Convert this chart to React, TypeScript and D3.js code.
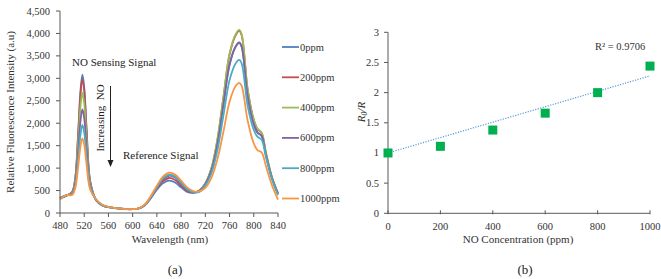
import React from 'react';
import * as d3 from 'd3';

// spectra (a)
const wavelengths = [480, 490, 500, 505, 510, 514, 517, 520, 524, 530, 540, 550, 560, 570, 580, 590, 600, 610, 620, 630, 640, 650, 660, 670, 680, 690, 700, 710, 720, 730, 740, 750, 760, 770, 776, 780, 790, 800, 806, 813, 820, 830, 840];
const ppm0 = [320, 380, 470, 760, 1780, 2750, 3080, 2800, 1850, 700, 280, 170, 130, 110, 95, 85, 85, 100, 170, 330, 520, 660, 720, 680, 570, 470, 450, 500, 660, 960, 1550, 2430, 3300, 3700, 3790, 3700, 2590, 1970, 1790, 1710, 1300, 780, 430];
const ppm200 = [330, 385, 466, 745, 1735, 2670, 2990, 2724, 1800, 690, 280, 170, 130, 110, 95, 85, 85, 100, 172, 340, 545, 705, 780, 735, 610, 495, 455, 495, 655, 990, 1630, 2580, 3530, 3960, 4060, 3960, 2740, 2070, 1870, 1780, 1340, 790, 435];
const ppm400 = [340, 390, 450, 700, 1570, 2398, 2680, 2445, 1630, 650, 285, 172, 132, 112, 96, 86, 86, 102, 180, 360, 580, 780, 860, 820, 680, 540, 470, 490, 660, 1000, 1650, 2600, 3550, 3980, 4080, 3980, 2750, 2080, 1880, 1790, 1350, 800, 440];
const ppm600 = [335, 395, 432, 645, 1375, 2072, 2310, 2112, 1425, 600, 285, 172, 132, 112, 96, 86, 86, 102, 175, 350, 565, 750, 830, 790, 650, 520, 460, 485, 640, 950, 1540, 2430, 3310, 3710, 3800, 3710, 2600, 1980, 1800, 1720, 1300, 780, 430];
const ppm800 = [330, 400, 415, 590, 1190, 1764, 1960, 1797, 1231, 555, 290, 175, 134, 113, 97, 87, 87, 103, 180, 355, 575, 770, 850, 810, 670, 535, 465, 470, 610, 880, 1400, 2180, 2960, 3330, 3410, 3330, 2380, 1850, 1700, 1630, 1250, 750, 400];
const ppm1000 = [300, 395, 400, 545, 1032, 1500, 1660, 1527, 1065, 515, 300, 185, 138, 115, 98, 88, 88, 105, 190, 380, 610, 810, 900, 860, 720, 570, 490, 480, 560, 780, 1200, 1820, 2480, 2830, 2900, 2830, 2050, 1550, 1400, 1350, 1050, 620, 300];
const seriesNames = ['0ppm', '200ppm', '400ppm', '600ppm', '800ppm', '1000ppm'];
const seriesColors = ['#4F81BD', '#C0504D', '#9BBB59', '#8064A2', '#4BACC6', '#F79646'];
const wlTicks = [480, 520, 560, 600, 640, 680, 720, 760, 800, 840];
const intTicks = [0, 500, 1000, 1500, 2000, 2500, 3000, 3500, 4000, 4500];

// calibration (b)
const concentration = [0, 200, 400, 600, 800, 1000];
const ratio = [1.0, 1.11, 1.38, 1.66, 2.0, 2.44];
const concTicks = [0, 200, 400, 600, 800, 1000];
const ratioTicks = [0, 0.5, 1, 1.5, 2, 2.5, 3];

const font = "'Liberation Serif', 'Times New Roman', serif";
const axisColor = '#595959';

export default function App() {
  const spectra = [ppm0, ppm200, ppm400, ppm600, ppm800, ppm1000];

  const xA = d3.scaleLinear().domain([480, 840]).range([60, 278]);
  const yA = d3.scaleLinear().domain([0, 4500]).range([213, 11]);
  const line = d3
    .line<number>()
    .x((_, i) => xA(wavelengths[i]))
    .y((d) => yA(d))
    .curve(d3.curveCatmullRom.alpha(0.5));

  const xB = d3.scaleLinear().domain([0, 1000]).range([388, 650]);
  const yB = d3.scaleLinear().domain([0, 3]).range([213.3, 32.3]);

  // linear trend with intercept fixed at 1
  let num = 0;
  let den = 0;
  concentration.forEach((c, i) => {
    num += c * (ratio[i] - 1);
    den += c * c;
  });
  const slope = num / den;
  const fmt = d3.format(',');

  return (
    <svg width={661} height={279} style={{ position: 'absolute', left: 0, top: 0, background: '#fff', fontFamily: font }}>
      {/* ---------- (a) ---------- */}
      <g>
        {spectra.map((s, i) => (
          <path key={i} d={line(s) || ''} fill="none" stroke={seriesColors[i]} strokeWidth={1.8} />
        ))}
        <line x1={xA(480)} x2={xA(840)} y1={yA(0)} y2={yA(0)} stroke={axisColor} strokeWidth={1} />
        <line x1={xA(480)} x2={xA(480)} y1={yA(0)} y2={yA(4500)} stroke={axisColor} strokeWidth={1} />
        {intTicks.map((t) => (
          <g key={t}>
            <line x1={xA(480) - 4} x2={xA(480)} y1={yA(t)} y2={yA(t)} stroke={axisColor} />
            <text x={50} y={yA(t) + 3.5} fontSize={10.5} textAnchor="end" fill="#333">{fmt(t)}</text>
          </g>
        ))}
        {wlTicks.map((t) => (
          <g key={t}>
            <line x1={xA(t)} x2={xA(t)} y1={yA(0)} y2={yA(0) + 4} stroke={axisColor} />
            <text x={xA(t)} y={229} fontSize={10.5} textAnchor="middle" fill="#333">{t}</text>
          </g>
        ))}
        <text x={170} y={243} fontSize={11} textAnchor="middle" fill="#333">Wavelength (nm)</text>
        <text transform="translate(14,112) rotate(-90)" fontSize={11} textAnchor="middle" fill="#333">
          Relative Fluorescence Intensity (a.u)
        </text>
        <text x={72} y={66} fontSize={11} fill="#222">NO Sensing Signal</text>
        <text x={123} y={159} fontSize={11} fill="#222">Reference Signal</text>
        <text transform="translate(104,118) rotate(-90)" fontSize={11} textAnchor="middle" fill="#222" xmlSpace="preserve">
          Increasing  NO
        </text>
        <line x1={110.5} x2={110.5} y1={86} y2={161} stroke="#222" strokeWidth={1} />
        <path d="M107.5,160 L113.5,160 L110.5,167 Z" fill="#222" />
        {seriesNames.map((n, i) => (
          <g key={n}>
            <line x1={282} x2={299} y1={47 + i * 30.3} y2={47 + i * 30.3} stroke={seriesColors[i]} strokeWidth={1.8} />
            <text x={300} y={50.5 + i * 30.3} fontSize={10.5} fill="#333">{n}</text>
          </g>
        ))}
        <text x={175} y={274} fontSize={13} textAnchor="middle" fill="#222">(a)</text>
      </g>

      {/* ---------- (b) ---------- */}
      <g>
        <line x1={xB(0)} x2={xB(1000)} y1={yB(0)} y2={yB(0)} stroke={axisColor} />
        <line x1={xB(0)} x2={xB(0)} y1={yB(0)} y2={yB(3)} stroke={axisColor} />
        {ratioTicks.map((t) => (
          <g key={t}>
            <line x1={xB(0) - 4} x2={xB(0)} y1={yB(t)} y2={yB(t)} stroke={axisColor} />
            <text x={379} y={yB(t) + 3.5} fontSize={10.5} textAnchor="end" fill="#333">{t}</text>
          </g>
        ))}
        {concTicks.map((t) => (
          <g key={t}>
            <line x1={xB(t)} x2={xB(t)} y1={yB(0) - 3} y2={yB(0) + 1} stroke={axisColor} />
            <text x={xB(t)} y={230} fontSize={10.5} textAnchor="middle" fill="#333">{t}</text>
          </g>
        ))}
        <line
          x1={xB(0)}
          x2={xB(1000)}
          y1={yB(1)}
          y2={yB(1 + slope * 1000)}
          stroke="#5B9BD5"
          strokeWidth={1.2}
          strokeDasharray="1.2 1.4"
        />
        {concentration.map((c, i) => (
          <rect key={c} x={xB(c) - 4.5} y={yB(ratio[i]) - 4.5} width={9} height={9} fill="#00B050" />
        ))}
        <text x={595} y={50} fontSize={10.5} fill="#333">R² = 0.9706</text>
        <text transform="translate(365,112) rotate(-90)" fontSize={11} textAnchor="middle" fill="#333" fontStyle="italic">
          R<tspan fontSize={7.5} dy={2}>0</tspan><tspan dy={-2}>/R</tspan>
        </text>
        <text x={518} y={243} fontSize={11} textAnchor="middle" fill="#333">NO Concentration (ppm)</text>
        <text x={525} y={274} fontSize={13} textAnchor="middle" fill="#222">(b)</text>
      </g>
    </svg>
  );
}
